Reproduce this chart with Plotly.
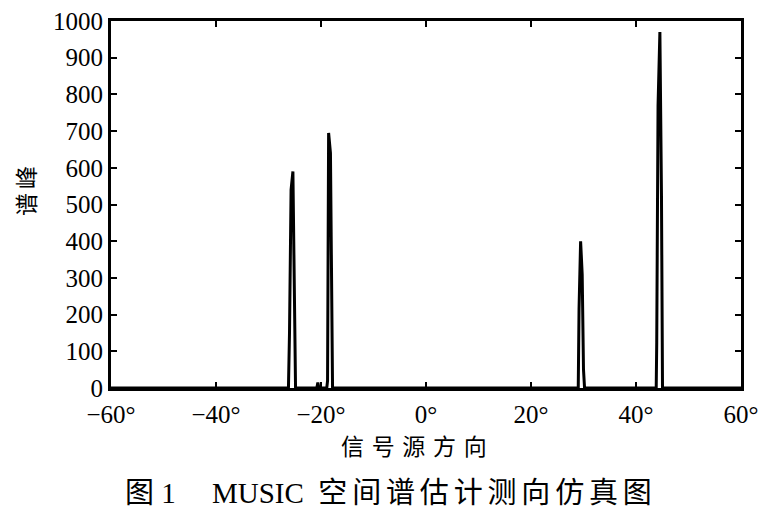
import plotly.graph_objects as go

# Direction angles (degrees) and MUSIC spectrum values
angles = [-60, -26.2, -26.0, -25.7, -25.35, -25.0, -24.85,
          -20.8, -20.6, -20.4, -18.9, -18.75, -18.55, -18.2, -18.0, -17.8,
          29.0, 29.15, 29.45, 29.75, 30.0, 30.2,
          43.85, 43.95, 44.2, 44.55, 44.85, 45.05, 60]
spectrum = [0, 0, 150, 540, 590, 250, 0,
            0, 15, 0, 0, 20, 695, 640, 180, 0,
            0, 215, 400, 310, 50, 0,
            0, 125, 770, 970, 530, 0, 0]

x_ticks = [-60, -40, -20, 0, 20, 40, 60]
x_tick_text = ["\u221260°", "\u221240°", "\u221220°", "0°", "20°", "40°", "60°"]
y_ticks = [0, 100, 200, 300, 400, 500, 600, 700, 800, 900, 1000]

fig = go.Figure()
fig.add_trace(go.Scatter(x=angles, y=spectrum, mode="lines",
                         line=dict(color="black", width=3), showlegend=False))

serif = "Liberation Serif, Times New Roman, serif"
mixed = "Liberation Serif, Noto Sans CJK SC, DejaVu Serif, serif"
fig.update_layout(
    width=775, height=518,
    margin=dict(l=103, r=42, t=13, b=138),
    paper_bgcolor="white", plot_bgcolor="white",
    font=dict(family=serif, color="black", size=20),
    xaxis=dict(range=[-60, 60], tickvals=x_ticks, ticktext=x_tick_text,
               showgrid=False, zeroline=False, showline=True, linecolor="black",
               linewidth=3, mirror="ticks", ticks="inside", ticklen=6,
               tickwidth=2, tickcolor="black", automargin=False,
               ticklabeloverflow="allow", ticklabelstandoff=2,
               tickfont=dict(family=serif, size=25)),
    yaxis=dict(range=[0, 1000], tickvals=y_ticks,
               showgrid=False, zeroline=False, showline=True, linecolor="black",
               linewidth=3, mirror="ticks", ticks="inside", ticklen=6,
               tickwidth=2, tickcolor="black", automargin=False,
               ticklabeloverflow="allow",
               tickfont=dict(family=serif, size=25)),
)
# axis titles
fig.add_annotation(text="信\u2004号\u2004源\u2004方\u2004向", xref="paper", yref="paper",
                   x=0.481, y=-0.155, xanchor="center", yanchor="middle", showarrow=False,
                   font=dict(family="Noto Sans CJK SC", size=23, color="black"))
fig.add_annotation(text="谱\u2006峰", xref="paper", yref="paper", x=-0.1365, y=0.537,
                   xanchor="center", yanchor="middle", showarrow=False, textangle=-90,
                   font=dict(family="Noto Sans CJK SC", size=23, color="black"))
# figure caption
cjk = "\u2006".join("空间谱估计测向仿真图")
fig.add_annotation(text="图 1     MUSIC  " + cjk,
                   xref="paper", yref="paper", x=0.4397, y=-0.286,
                   xanchor="center", yanchor="middle", showarrow=False,
                   font=dict(family=mixed, size=29, color="black"))

fig.write_html("out.html")
